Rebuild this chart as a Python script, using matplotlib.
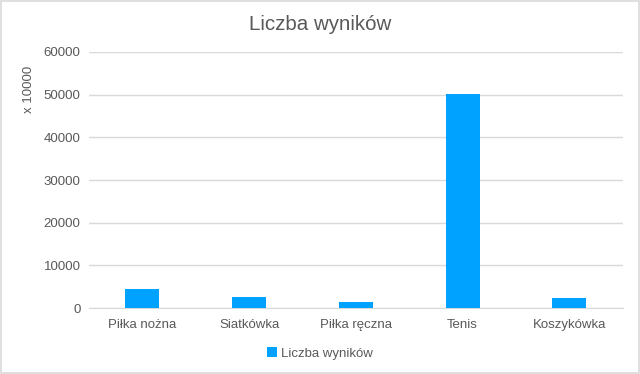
import matplotlib
matplotlib.use("Agg")
import matplotlib.pyplot as plt
from matplotlib.patches import Rectangle

categories = ["Piłka nożna", "Siatkówka", "Piłka ręczna", "Tenis", "Koszykówka"]
values = [4480, 2600, 1500, 50200, 2280]
series_name = "Liczba wyników"
title = "Liczba wyników"
yticks = [0, 10000, 20000, 30000, 40000, 50000, 60000]

plt.rcParams['font.family'] = ['Liberation Sans', 'DejaVu Sans']
text_color = '#595959'
bar_color = '#00A2FF'

fig = plt.figure(figsize=(6.4, 3.74), dpi=100)
ax = fig.add_axes([0.139, 0.176, 0.834, 0.685])

x = range(len(categories))
ax.bar(x, values, width=0.32, color=bar_color, label=series_name, zorder=3)
ax.set_xlim(-0.5, len(categories) - 0.5)
ax.set_ylim(0, 60000)
ax.set_yticks(yticks)
ax.set_yticklabels([str(t) for t in yticks], color=text_color, fontsize=9.5)
ax.set_xticks(list(x))
ax.set_xticklabels(categories, color=text_color, fontsize=9.5)
ax.tick_params(axis='both', length=0, pad=6)
ax.tick_params(axis='x', pad=8)
ax.grid(axis='y', color='#D9D9D9', linewidth=1, zorder=0)
for s in ['top', 'right', 'left']:
    ax.spines[s].set_visible(False)
ax.spines['bottom'].set_color('#D9D9D9')

fig.text(0.5, 0.935, title, ha='center', va='center', fontsize=14.8, color=text_color)
fig.text(0.045, 0.76, "x 10000", rotation=90, ha='center', va='center', fontsize=9.5, color=text_color)

leg = fig.legend(loc='center', bbox_to_anchor=(0.5, 0.055), frameon=False,
                 fontsize=9.5, handlelength=0.7, handleheight=0.7, handletextpad=0.3)
for t in leg.get_texts():
    t.set_color(text_color)

fig.patches.append(Rectangle((0.001, 0.002), 0.997, 0.995, transform=fig.transFigure,
                             fill=False, edgecolor='#D9D9D9', linewidth=1.2))

fig.savefig("out.png", dpi=100, facecolor='white')
